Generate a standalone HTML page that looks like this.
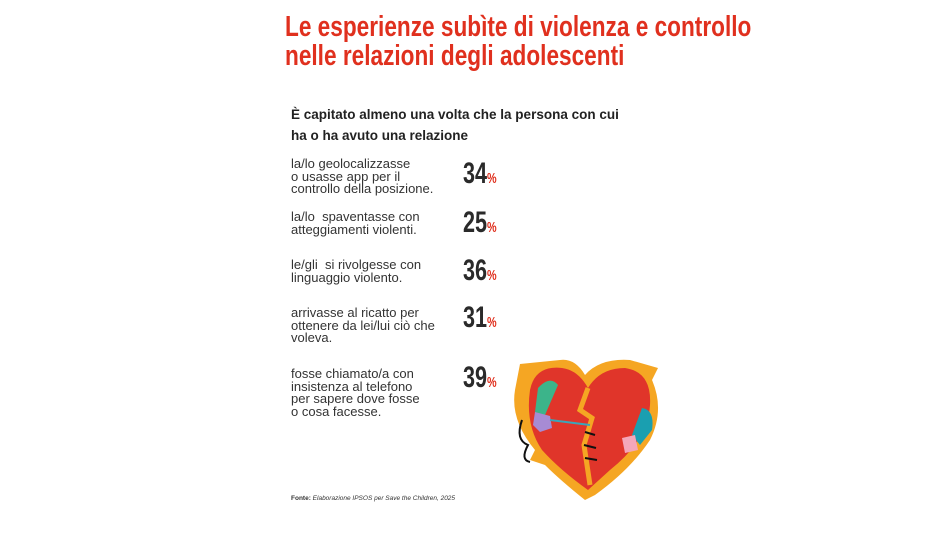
<!DOCTYPE html>
<html><head><meta charset="utf-8"><style>
body{margin:0;width:950px;height:533px;background:#fff;position:relative;overflow:hidden;font-family:"Liberation Sans",sans-serif;}
.t{position:absolute;left:285px;color:#e0301e;font-weight:bold;font-size:29px;white-space:nowrap;transform:scaleX(0.78);transform-origin:left top;line-height:30px;}
.h{position:absolute;left:291px;top:104px;font-weight:bold;font-size:13.5px;line-height:21px;color:#222;}
.i{position:absolute;left:291px;font-size:13px;line-height:12.5px;color:#333;}
.n{position:absolute;left:463px;font-weight:bold;font-size:30px;color:#2a2a2a;transform:scaleX(0.72);transform-origin:left top;line-height:30px;white-space:nowrap;}
.n span{color:#e0301e;font-size:15px;}
.f{position:absolute;left:291px;top:495px;font-size:6.5px;color:#333;}
</style></head><body>
<div class="t" style="top:12px">Le esperienze subìte di violenza e controllo</div>
<div class="t" style="top:41px">nelle relazioni degli adolescenti</div>
<div class="h">È capitato almeno una volta che la persona con cui<br>ha o ha avuto una relazione</div>
<div class="i" style="top:158px">la/lo geolocalizzasse<br>o usasse app per il<br>controllo della posizione.</div>
<div class="n" style="top:159px">34<span>%</span></div>
<div class="i" style="top:211px">la/lo&nbsp; spaventasse con<br>atteggiamenti violenti.</div>
<div class="n" style="top:208px">25<span>%</span></div>
<div class="i" style="top:259px">le/gli&nbsp; si rivolgesse con<br>linguaggio violento.</div>
<div class="n" style="top:256px">36<span>%</span></div>
<div class="i" style="top:307px">arrivasse al ricatto per<br>ottenere da lei/lui ciò che<br>voleva.</div>
<div class="n" style="top:303px">31<span>%</span></div>
<div class="i" style="top:368px">fosse chiamato/a con<br>insistenza al telefono<br>per sapere dove fosse<br>o cosa facesse.</div>
<div class="n" style="top:363px">39<span>%</span></div>
<div class="f"><b>Fonte:</b> <i>Elaborazione IPSOS per Save the Children, 2025</i></div>
<svg style="position:absolute;left:500px;top:350px" width="170" height="160" viewBox="0 0 170 160">
<path d="M20 14 L60 10 Q75 8 85 25 Q100 8 130 10 L158 18 L152 30 Q165 60 150 90 Q130 120 95 145 L85 150 Q60 130 45 115 L30 110 L35 100 Q10 70 15 40 Z" fill="#f5a623"/>
<path d="M30 40 Q35 15 62 18 Q78 20 88 38 Q100 18 125 18 Q152 22 150 55 Q148 90 110 120 L88 140 Q60 120 42 100 Q25 75 30 40Z" fill="#e0352a"/>
<path d="M88 38 L80 60 L92 68 L84 95 L90 135" stroke="#f5a623" stroke-width="5" fill="none"/>
<path d="M38 38 Q50 25 58 35 L45 65 L35 62Z" fill="#3cb48a"/>
<path d="M35 62 L50 66 L52 78 L40 82 L33 75Z" fill="#a78bd4"/>
<path d="M50 70 L90 75" stroke="#3aa6b9" stroke-width="2"/>
<path d="M22 70 Q15 90 28 95 Q20 110 30 112" stroke="#111" stroke-width="2" fill="none"/>
<path d="M142 58 Q155 60 152 80 L140 95 L132 85Z" fill="#1a9fb0"/>
<path d="M122 88 L135 85 L138 100 L125 103Z" fill="#f4a7b9"/>
<path d="M85 82 L95 85 M84 95 L96 98 M85 108 L97 110" stroke="#111" stroke-width="2"/>
</svg>
</body></html>
